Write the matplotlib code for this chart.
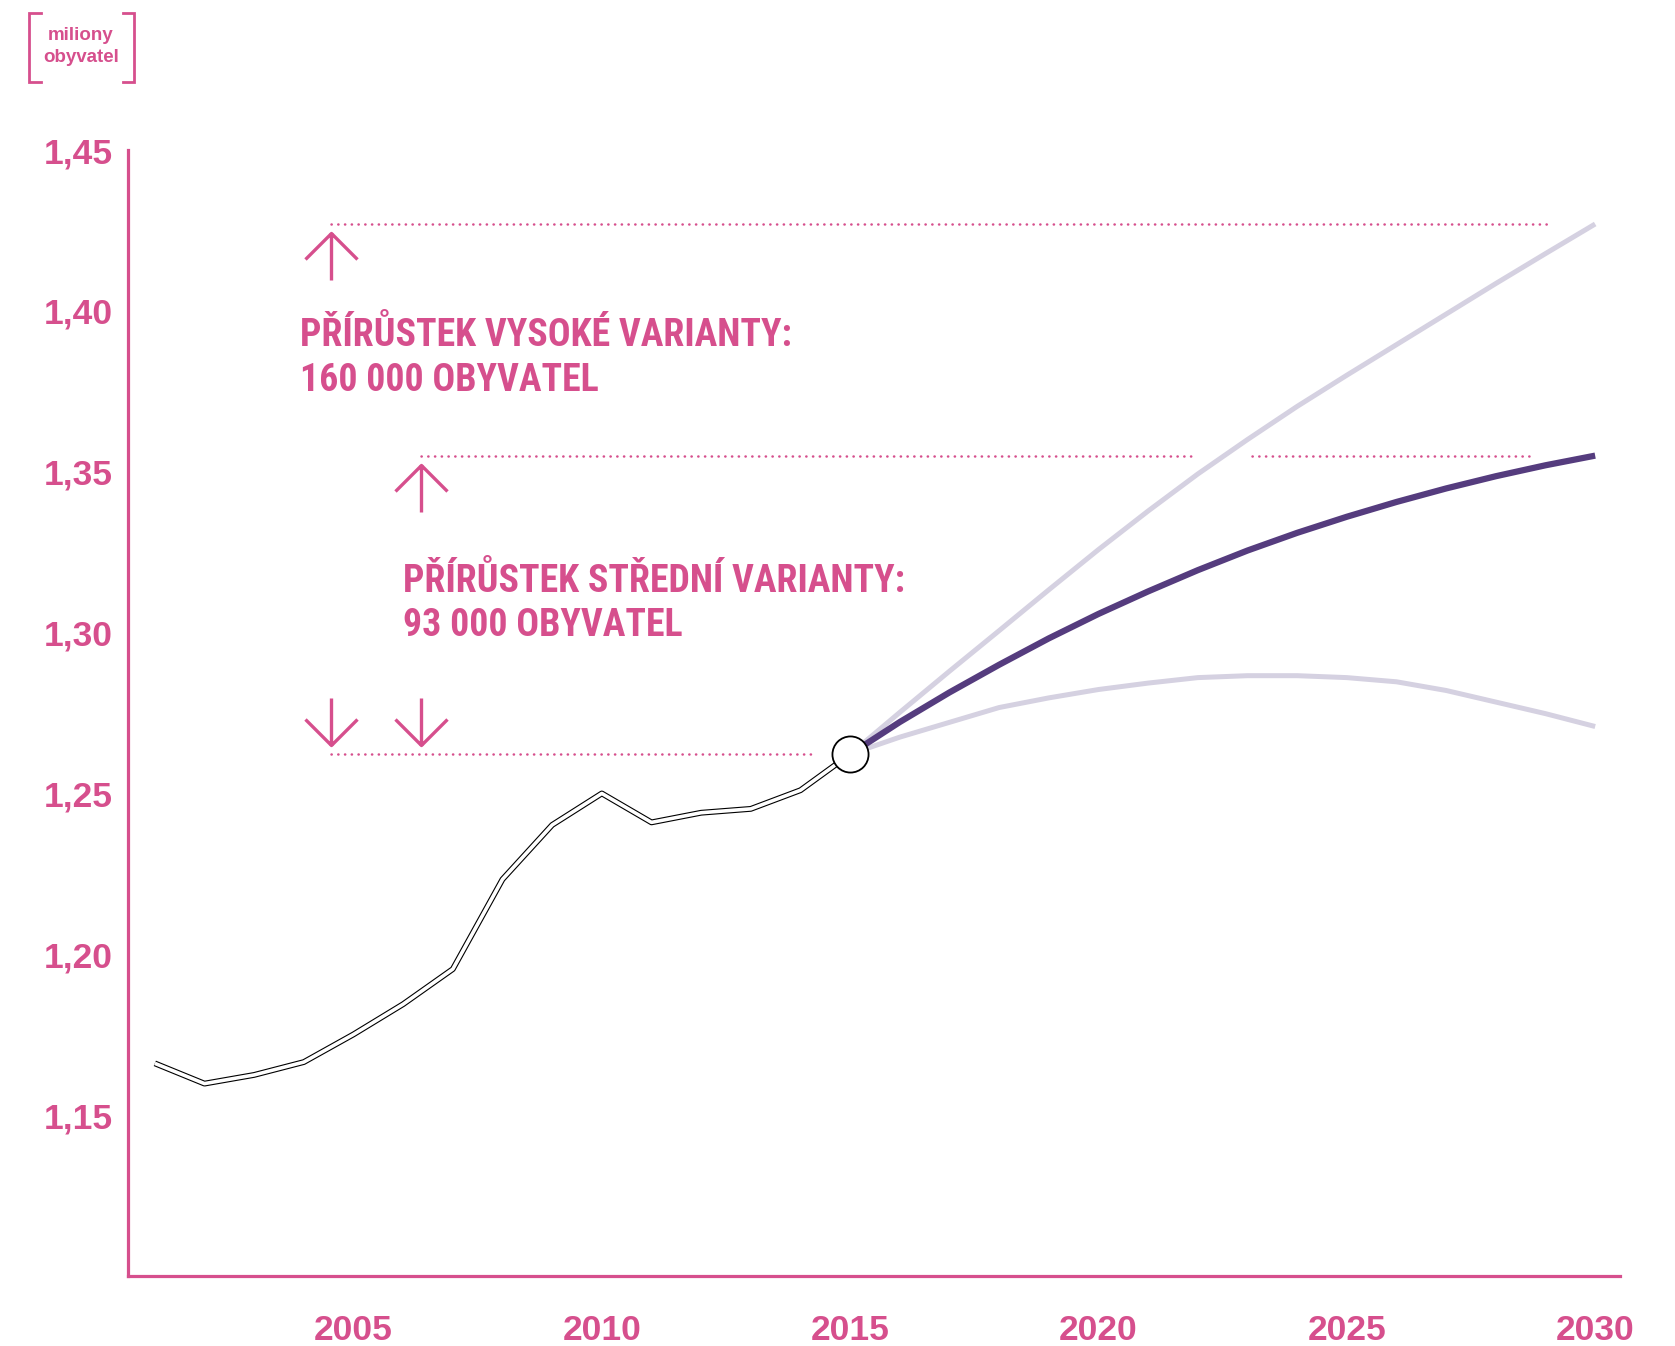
import numpy as np
import matplotlib
matplotlib.use('Agg')
import matplotlib.pyplot as plt
from matplotlib import font_manager
from matplotlib.path import Path
from matplotlib.markers import MarkerStyle
from matplotlib.lines import Line2D

# population, millions
hist_years = list(range(2001, 2016))
hist_pop = [1.1661, 1.1598, 1.1625, 1.1665, 1.1751, 1.1845, 1.1954, 1.2233,
            1.2402, 1.2500, 1.2410, 1.2440, 1.2452, 1.2510, 1.2622]

fc_years = list(range(2015, 2031))
fc_mid = [1.2622, 1.2722, 1.2814, 1.2900, 1.2982, 1.3058, 1.3128, 1.3194,
          1.3255, 1.3310, 1.3360, 1.3406, 1.3448, 1.3486, 1.3520, 1.3550]
fc_high = [1.2622, 1.2752, 1.2880, 1.3006, 1.3133, 1.3258, 1.3378, 1.3493,
           1.3600, 1.3703, 1.3800, 1.3895, 1.3990, 1.4085, 1.4178, 1.4270]
fc_low = [1.2622, 1.2675, 1.2721, 1.2767, 1.2797, 1.2823, 1.2843, 1.2860,
          1.2866, 1.2866, 1.2860, 1.2847, 1.2820, 1.2784, 1.2748, 1.2708]

x_ticks = [2005, 2010, 2015, 2020, 2025, 2030]
y_ticks = [1.15, 1.20, 1.25, 1.30, 1.35, 1.40, 1.45]
y_labels = ['1,15', '1,20', '1,25', '1,30', '1,35', '1,40', '1,45']

note_high = ['PŘÍRŮSTEK VYSOKÉ VARIANTY:', '160 000 OBYVATEL']
note_mid = ['PŘÍRŮSTEK STŘEDNÍ VARIANTY:', '93 000 OBYVATEL']
unit_label = ['miliony', 'obyvatel']

PINK = '#d64f8d'
PURPLE = '#553c7e'
LAVENDER = '#d5d1e1'

names = {f.name for f in font_manager.fontManager.ttflist}
NARROW, nsize = 'Liberation Sans', 22.8
for fam, size in [('Liberation Sans Narrow', 27), ('Roboto Condensed', 27.3),
                  ('DejaVu Sans Condensed', 22)]:
    if fam in names:
        NARROW, nsize = fam, size
        break
WIDE = 'Liberation Sans'

W, H = 1675, 1346
fig = plt.figure(figsize=(W / 100, H / 100), dpi=100)
ax = fig.add_axes([128 / W, 70 / H, 1492 / W, 1126 / H])
ax.set_xlim(2000.46, 2030.5)
ax.set_ylim(1.10, 1.45)

for s in ['top', 'right']:
    ax.spines[s].set_visible(False)
for s in ['left', 'bottom']:
    ax.spines[s].set_color(PINK)
    ax.spines[s].set_linewidth(2.3)

ax.set_xticks(x_ticks, [str(x) for x in x_ticks])
ax.set_yticks(y_ticks, y_labels)
ax.tick_params(length=0, colors=PINK)
ax.tick_params(axis='x', pad=27)
ax.tick_params(axis='y', pad=11)
for lbl in ax.get_xticklabels() + ax.get_yticklabels():
    lbl.set_fontfamily(WIDE)
    lbl.set_fontweight('bold')
    lbl.set_fontsize(25.5)

# forecasts
ax.plot(fc_years, fc_high, color=LAVENDER, lw=3.6, zorder=2, solid_capstyle='butt')
ax.plot(fc_years, fc_low, color=LAVENDER, lw=3.6, zorder=2, solid_capstyle='butt')
ax.plot(fc_years, fc_mid, color=PURPLE, lw=4.5, zorder=3, solid_capstyle='butt')

# history as an outlined line
ax.plot(hist_years, hist_pop, color='black', lw=4.2, zorder=4,
        solid_capstyle='butt', solid_joinstyle='round')
ax.plot(hist_years, hist_pop, color='white', lw=2.6, zorder=5,
        solid_capstyle='butt', solid_joinstyle='round')
ax.plot([hist_years[-1]], [hist_pop[-1]], 'o', ms=26, mfc='white', mec='black',
        mew=1.3, zorder=7)


def dotted(x0, x1, y):
    ax.plot([x0, x1], [y, y], color=PINK, lw=1.8, linestyle=(0, (0.1, 2.6)),
            dash_capstyle='round', zorder=1)


def arrow(x, y, up):
    d = -1 if up else 1
    g, L, w, h = 9, 47, 26, 26
    verts = [(0, d * (g + L)), (0, d * g), (-w, d * (g + h)), (0, d * g), (w, d * (g + h))]
    codes = [Path.MOVETO, Path.LINETO, Path.MOVETO, Path.LINETO, Path.LINETO]
    m = MarkerStyle(Path(verts, codes), joinstyle='miter', capstyle='butt')
    ax.plot([x], [y], linestyle='none', marker=m, markersize=2 * (g + L) * 0.72,
            markeredgewidth=2.4, markeredgecolor=PINK, markerfacecolor='none', zorder=6)


base = hist_pop[-1]
x_left, x_right = 2004.55, 2006.35

dotted(x_left, 2029.05, fc_high[-1])
cross = np.interp(fc_mid[-1], fc_high, fc_years)
dotted(x_right, cross - 0.6, fc_mid[-1])
dotted(cross + 0.55, 2028.7, fc_mid[-1])
dotted(x_left, 2014.25, base)

arrow(x_left, fc_high[-1], True)
arrow(x_right, fc_mid[-1], True)
arrow(x_left, base, False)
arrow(x_right, base, False)

tkw = dict(color=PINK, fontfamily=NARROW, fontweight='bold', fontsize=nsize,
           ha='left', va='baseline')
ax.text(2003.92, 1.3892, note_high[0], **tkw)
ax.text(2003.92, 1.3750, note_high[1], **tkw)
ax.text(2005.99, 1.3127, note_mid[0], **tkw)
ax.text(2005.99, 1.2988, note_mid[1], **tkw)

# unit label in brackets
fig.text(81 / W, 1 - 35 / H, unit_label[0], color=PINK, fontfamily=WIDE,
         fontweight='bold', fontsize=13.5, ha='center', va='center')
fig.text(81 / W, 1 - 58 / H, unit_label[1], color=PINK, fontfamily=WIDE,
         fontweight='bold', fontsize=13.5, ha='center', va='center')
for xs in ([40.5, 29.5, 29.5, 40.5], [122.5, 133.5, 133.5, 122.5]):
    ys = [12.5, 12.5, 81.5, 81.5]
    fig.add_artist(Line2D([x / W for x in xs], [1 - y / H for y in ys],
                          transform=fig.transFigure, color=PINK, lw=2.0,
                          solid_joinstyle='miter'))

fig.savefig('out.png', dpi=100)
